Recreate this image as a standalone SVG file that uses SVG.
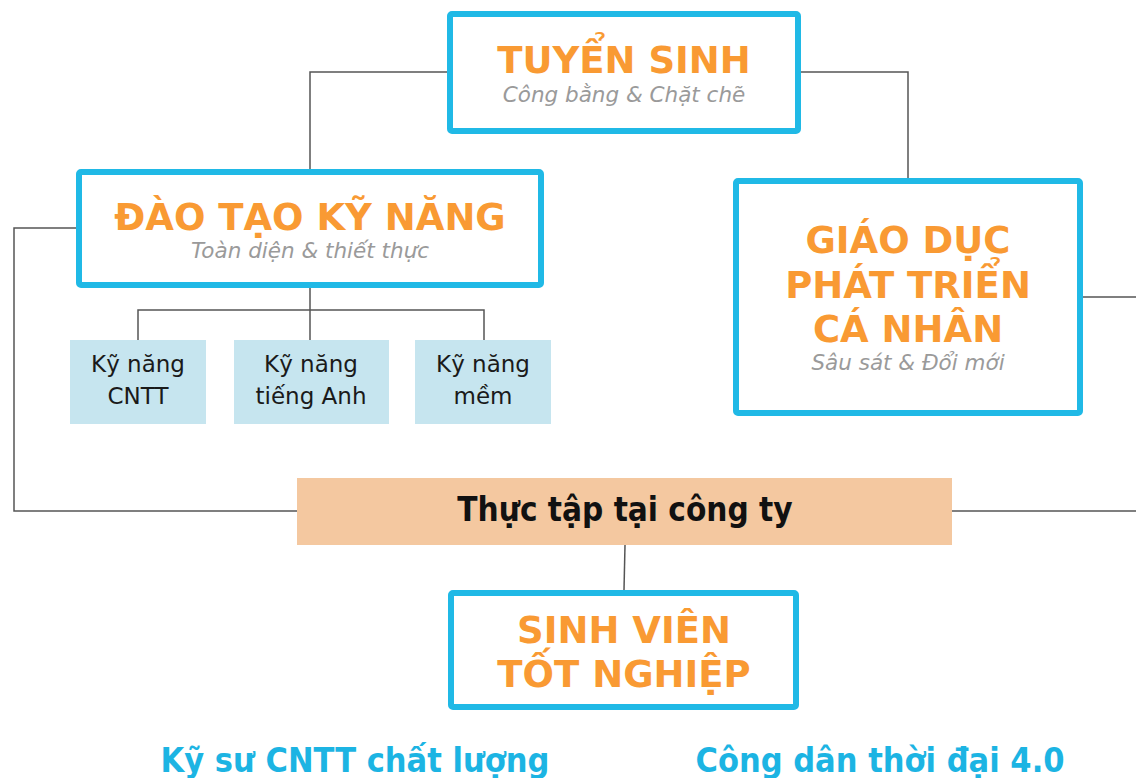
<svg xmlns="http://www.w3.org/2000/svg" width="1136" height="778" viewBox="0 0 1136 778">
<style>
.main{fill:#fff;stroke:#20B9E6;stroke-width:6}
.skill{fill:#C6E5EF}
.title{font-family:"DejaVu Sans",Verdana,sans-serif;font-weight:bold;font-size:37px;fill:#F99A33;text-anchor:middle}
.sub{font-family:"DejaVu Sans",Verdana,sans-serif;font-style:italic;font-size:21.5px;fill:#9A9A9A;text-anchor:middle}
.sk{font-family:"DejaVu Sans",Verdana,sans-serif;font-size:23px;fill:#1a1a1a;text-anchor:middle}
.bold{font-family:"DejaVu Sans Condensed","DejaVu Sans",sans-serif;font-weight:bold;text-anchor:middle}
.conn{fill:none;stroke:#555;stroke-width:1.5}
</style>
<rect width="1136" height="778" fill="#fff"/>
<g id="connectors" class="conn">
<path d="M449,72 H310 V169"/>
<path d="M800,72 H908 V178"/>
<path d="M76,228 H14 V511 H297"/>
<path d="M1083,297 H1136"/>
<path d="M952,511 H1136"/>
<path d="M310,288 V340"/>
<path d="M138,340 V310 H484 V340"/>
<path d="M625,545 L624,590"/>
</g>
<g id="tuyen-sinh">
<rect class="main" x="450" y="14" width="348" height="117" rx="2"/>
<text class="title" x="624" y="73">TUYỂN SINH</text>
<text class="sub" x="624" y="102">Công bằng &amp; Chặt chẽ</text>
</g>
<g id="dao-tao">
<rect class="main" x="79" y="172" width="462" height="113" rx="2"/>
<text class="title" x="310" y="230">ĐÀO TẠO KỸ NĂNG</text>
<text class="sub" x="310" y="258">Toàn diện &amp; thiết thực</text>
</g>
<g id="giao-duc">
<rect class="main" x="736" y="181" width="344" height="232" rx="2"/>
<text class="title" x="908" y="253">GIÁO DỤC</text>
<text class="title" x="908" y="298">PHÁT TRIỂN</text>
<text class="title" x="908" y="342">CÁ NHÂN</text>
<text class="sub" x="908" y="370">Sâu sát &amp; Đổi mới</text>
</g>
<g id="ky-nang-cntt">
<rect class="skill" x="70" y="340" width="136" height="84"/>
<text class="sk" x="138" y="372">Kỹ năng</text>
<text class="sk" x="138" y="404">CNTT</text>
</g>
<g id="ky-nang-tieng-anh">
<rect class="skill" x="234" y="340" width="155" height="84"/>
<text class="sk" x="311" y="372">Kỹ năng</text>
<text class="sk" x="311" y="404">tiếng Anh</text>
</g>
<g id="ky-nang-mem">
<rect class="skill" x="415" y="340" width="136" height="84"/>
<text class="sk" x="483" y="372">Kỹ năng</text>
<text class="sk" x="483" y="404">mềm</text>
</g>
<g id="thuc-tap">
<rect x="297" y="478" width="655" height="67" fill="#F4C8A0"/>
<text class="bold" x="625" y="521" font-size="33" fill="#111">Thực tập tại công ty</text>
</g>
<g id="sinh-vien">
<rect class="main" x="451" y="593" width="345" height="114" rx="2"/>
<text class="title" x="624" y="643">SINH VIÊN</text>
<text class="title" x="624" y="687">TỐT NGHIỆP</text>
</g>
<g id="outcomes">
<text class="bold" x="355" y="772" font-size="34" fill="#1CB4E3">Kỹ sư CNTT chất lượng</text>
<text class="bold" x="880" y="772" font-size="34" fill="#1CB4E3">Công dân thời đại 4.0</text>
</g>
</svg>
